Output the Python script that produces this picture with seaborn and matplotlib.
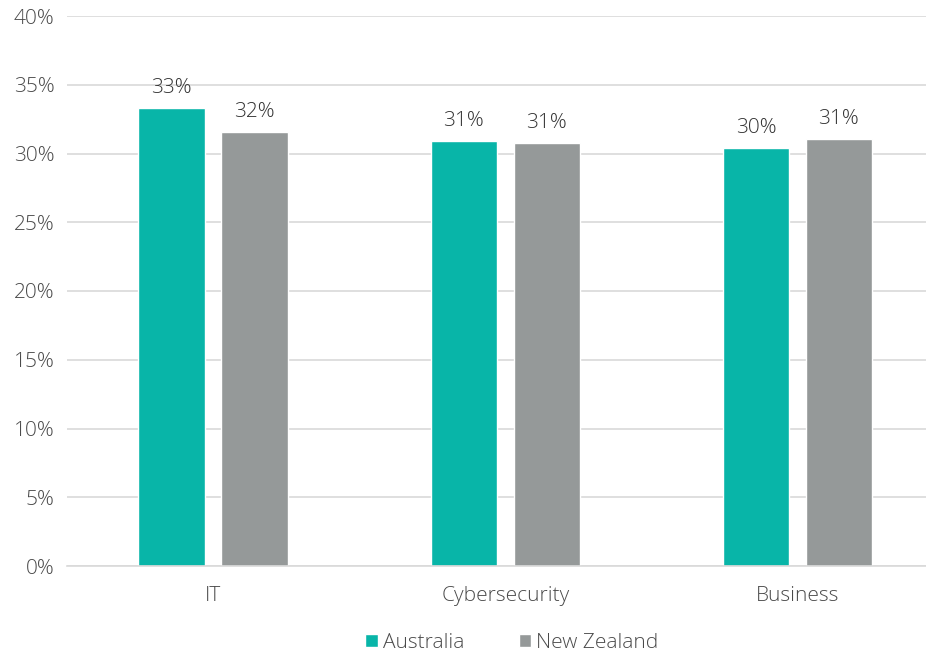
import matplotlib
matplotlib.use("Agg")
import matplotlib.pyplot as plt
import seaborn as sns
import pandas as pd
from matplotlib.ticker import FuncFormatter

categories = ["IT", "Cybersecurity", "Business"]
australia = [33.3, 30.9, 30.4]
new_zealand = [31.6, 30.8, 31.05]
series_names = ["Australia", "New Zealand"]
colors = ["#08B5A8", "#959999"]
text_color = "#4a4a4a"

df = pd.DataFrame({
    "category": categories * 2,
    "value": australia + new_zealand,
    "country": [series_names[0]] * 3 + [series_names[1]] * 3,
})

sns.set_theme(style="white")
plt.rcParams["font.family"] = ["Open Sans", "DejaVu Sans"]
plt.rcParams["font.weight"] = "light"
fs = 15

fig = plt.figure(figsize=(9.26, 6.51), dpi=100)
ax = fig.add_axes([67 / 926, 1 - 566 / 651, 1 - 67 / 926, 550 / 651])

sns.barplot(data=df, x="category", y="value", hue="country", order=categories,
            hue_order=series_names, palette=colors, width=0.568, gap=0.2,
            saturation=1, ax=ax, legend=True)

for container in ax.containers:
    ax.bar_label(container, labels=[f"{v:.0f}%" for v in container.datavalues],
                 padding=7, fontsize=fs, color="#333333")

ax.set_ylim(0, 40)
ax.set_xlim(-0.5, 2.44)
ax.set_yticks(range(0, 41, 5))
ax.yaxis.set_major_formatter(FuncFormatter(lambda v, _: f"{v:.0f}%"))
ax.grid(axis="y", color="#d9d9d9", linewidth=1.2)
ax.set_axisbelow(True)
for side in ["left", "right", "top"]:
    ax.spines[side].set_visible(False)
ax.spines["bottom"].set_color("#d9d9d9")
ax.spines["bottom"].set_linewidth(1.2)
ax.tick_params(axis="y", length=0, pad=9, labelsize=fs, labelcolor=text_color)
ax.tick_params(axis="x", length=0, pad=14.5, labelsize=fs, labelcolor=text_color)
ax.set_xlabel("")
ax.set_ylabel("")

leg = ax.legend(loc="upper center", bbox_to_anchor=((512 - 67) / 859, -0.106),
                ncol=2, frameon=False, fontsize=fs, handlelength=0.6, handleheight=0.6,
                handletextpad=0.25, columnspacing=2.6, borderaxespad=0)
for t in leg.get_texts():
    t.set_color(text_color)

fig.savefig("out.png", dpi=100)
